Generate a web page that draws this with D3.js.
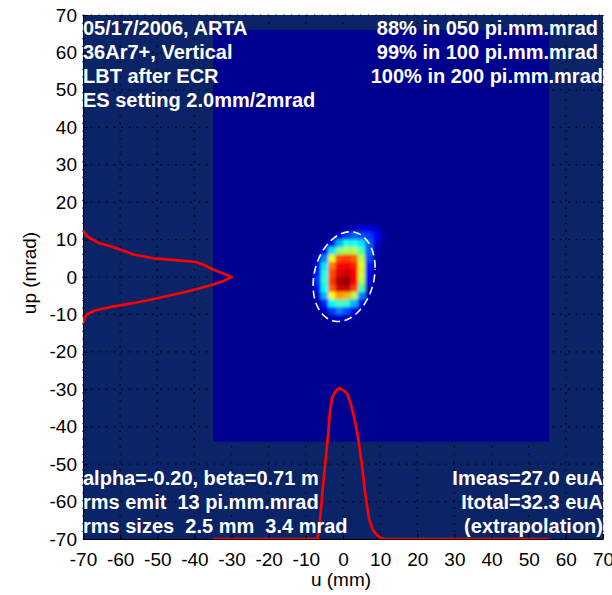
<!DOCTYPE html>
<html>
<head>
<meta charset="utf-8">
<script src="https://cdn.jsdelivr.net/npm/d3@7"></script>
<style>
  body { margin: 0; background: #fff; }
  text { font-family: "Liberation Sans", Arial, sans-serif; white-space: pre; }
  .info { fill: #fff; font-weight: bold; font-size: 20px; }
  .tick text { font-size: 19px; fill: #000; }
</style>
</head>
<body>
<div id="chart"></div>
<script>
// axis range + ticks
var ticks = [-70, -60, -50, -40, -30, -20, -10, 0, 10, 20, 30, 40, 50, 60, 70];

// measured image extent (u: mm, up: mrad)
var imageU = [-35, 55.5];
var imageUp = [-44, 66];

// beam density, 2x2 cells; columns = u centres, rows = up centres
var cellU = [-7, -5, -3, -1, 1, 3, 5, 7, 9, 11];
var cellUp = [13, 11, 9, 7, 5, 3, 1, -1, -3, -5, -7, -9, -11];
var density = [
    [0, 0, 0, 0, 0.02, 0.05, 0.08, 0.08, 0.05, 0],
    [0, 0, 0, 0.08, 0.18, 0.22, 0.2, 0.18, 0.12, 0.03],
    [0, 0, 0.1, 0.3, 0.4, 0.4, 0.35, 0.22, 0.08, 0],
    [0, 0.1, 0.35, 0.5, 0.55, 0.55, 0.45, 0.22, 0.04, 0],
    [0.05, 0.25, 0.6, 0.8, 0.82, 0.78, 0.55, 0.2, 0.02, 0],
    [0.1, 0.35, 0.75, 0.88, 0.88, 0.85, 0.6, 0.15, 0, 0],
    [0.15, 0.4, 0.8, 0.9, 0.93, 0.88, 0.58, 0.12, 0, 0],
    [0.18, 0.42, 0.82, 0.96, 0.98, 0.88, 0.55, 0.1, 0, 0],
    [0.12, 0.38, 0.78, 0.92, 0.93, 0.82, 0.45, 0.06, 0, 0],
    [0.06, 0.3, 0.62, 0.72, 0.7, 0.55, 0.25, 0.03, 0, 0],
    [0.02, 0.15, 0.38, 0.45, 0.42, 0.3, 0.1, 0, 0, 0],
    [0, 0.05, 0.18, 0.25, 0.2, 0.1, 0.02, 0, 0, 0],
    [0, 0, 0.04, 0.08, 0.05, 0.02, 0, 0, 0, 0]
];

// u profile (drawn against the bottom axis)
var profU = [-35, -7, -6.5, -6, -5.5, -5, -4.5, -4, -3.5, -3, -2, -1, 0, 1, 2, 3, 4, 5, 6, 7, 8, 9, 10, 11, 55.5];
var profUval = [-70, -70, -68, -63, -57, -52, -47, -42, -36, -32.5, -30.5, -29.7, -30.2, -31, -33.5, -37.5, -42.5, -49.5, -58, -64.5, -67.5, -68.8, -69.6, -70, -70];

// up profile (drawn against the left axis)
var profUp = [12.5, 11, 10, 9, 8, 7, 6, 5, 4.5, 4, 3, 2, 1, 0, -1, -2, -3, -4, -5, -6, -7, -8, -9, -10, -11, -12.5];
var profUpval = [-70, -69, -67.5, -65.5, -62, -59, -56.5, -51, -45, -39.5, -37, -35, -32.5, -30, -32, -35, -38.5, -42.5, -47, -51.5, -56.5, -62.5, -67, -69, -69.6, -70];

// twiss ellipse
var twiss = { alpha: -0.20, beta: 0.71, eps: 98, u0: 0.3, up0: 0.1 };

var infoTopLeft = ["05/17/2006, ARTA", "36Ar7+, Vertical", "LBT after ECR", "ES setting 2.0mm/2mrad"];
var infoTopRight = ["88% in 050 pi.mm.mrad", "99% in 100 pi.mm.mrad", "100% in 200 pi.mm.mrad"];
var infoBotLeft = ["alpha=-0.20, beta=0.71 m", "rms emit  13 pi.mm.mrad", "rms sizes  2.5 mm  3.4 mrad"];
var infoBotRight = ["Imeas=27.0 euA", "Itotal=32.3 euA", "(extrapolation)"];

var margin = { top: 15, right: 9, bottom: 56, left: 83 },
    width = 612 - margin.left - margin.right,
    height = 595 - margin.top - margin.bottom;

var x = d3.scaleLinear().domain([-70, 70]).range([0, width]);
var y = d3.scaleLinear().domain([-70, 70]).range([height, 0]);

var jet = d3.scaleLinear()
    .domain([0, 0.125, 0.375, 0.625, 0.875, 1])
    .range(["#00008f", "#0000ff", "#00ffff", "#ffff00", "#ff0000", "#800000"]);

var svg = d3.select("#chart")
    .append("svg")
    .attr("width", 612)
    .attr("height", 595);

var defs = svg.append("defs");
defs.append("clipPath").attr("id", "plotclip")
    .append("rect").attr("width", width).attr("height", height);
defs.append("filter").attr("id", "soft")
    .attr("x", "-30%").attr("y", "-30%").attr("width", "160%").attr("height", "160%")
    .append("feGaussianBlur").attr("stdDeviation", 1.8);

var g = svg.append("g")
    .attr("transform", "translate(" + margin.left + "," + margin.top + ")");

// background
g.append("rect")
    .attr("width", width)
    .attr("height", height)
    .style("fill", "#0b2367");

// dotted grid
var grid = g.append("g").attr("class", "grid")
    .style("stroke", "#000")
    .style("stroke-width", 1.2)
    .style("stroke-dasharray", "1.2,6.5");
grid.selectAll(".gx").data(ticks).enter().append("line")
    .attr("x1", d => x(d)).attr("x2", d => x(d))
    .attr("y1", 0).attr("y2", height);
grid.selectAll(".gy").data(ticks).enter().append("line")
    .attr("x1", 0).attr("x2", width)
    .attr("y1", d => y(d)).attr("y2", d => y(d));

var plot = g.append("g").attr("clip-path", "url(#plotclip)");

// measured image area
plot.append("rect")
    .attr("x", x(imageU[0]))
    .attr("y", y(imageUp[1]))
    .attr("width", x(imageU[1]) - x(imageU[0]))
    .attr("height", y(imageUp[0]) - y(imageUp[1]))
    .style("fill", jet(0));

// density cells
var cells = [];
density.forEach((row, i) => {
    row.forEach((v, j) => {
        cells.push({ u: cellU[j], up: cellUp[i], v: v });
    });
});
plot.append("g")
    .attr("filter", "url(#soft)")
    .selectAll("rect")
    .data(cells)
    .enter().append("rect")
    .attr("x", d => x(d.u - 1))
    .attr("y", d => y(d.up + 1))
    .attr("width", x(1) - x(-1) + 0.3)
    .attr("height", y(-1) - y(1) + 0.3)
    .style("fill", d => jet(d.v));

// emittance ellipse
var ts = d3.range(0, 2 * Math.PI + 0.01, 0.05);
var ell = ts.map(t => [
    twiss.u0 + Math.sqrt(twiss.eps * twiss.beta) * Math.cos(t),
    twiss.up0 + Math.sqrt(twiss.eps / twiss.beta) * (Math.sin(t) - twiss.alpha * Math.cos(t))
]);
plot.append("path")
    .datum(ell)
    .attr("d", d3.line().x(d => x(d[0])).y(d => y(d[1])))
    .style("fill", "none")
    .style("stroke", "#fff")
    .style("stroke-width", 1.6)
    .style("stroke-dasharray", "8,4.5");

// profiles
plot.append("path")
    .datum(profU.map((u, i) => [u, profUval[i]]))
    .attr("d", d3.line().x(d => x(d[0])).y(d => y(d[1])))
    .style("fill", "none")
    .style("stroke", "#ff0000")
    .style("stroke-width", 2.7)
    .style("stroke-linejoin", "round");

plot.append("path")
    .datum(profUp.map((u, i) => [profUpval[i], u]))
    .attr("d", d3.line().x(d => x(d[0])).y(d => y(d[1])))
    .style("fill", "none")
    .style("stroke", "#ff0000")
    .style("stroke-width", 2.7)
    .style("stroke-linejoin", "round");

// axes (plain hyphen minus like the original)
var fmt = d => String(d);
var xAxis = g.append("g")
    .attr("class", "x axis")
    .attr("transform", "translate(0," + height + ")")
    .call(d3.axisBottom(x).tickValues(ticks).tickFormat(fmt).tickSizeInner(-5).tickSizeOuter(0).tickPadding(10));
var yAxis = g.append("g")
    .attr("class", "y axis")
    .call(d3.axisLeft(y).tickValues(ticks).tickFormat(fmt).tickSizeInner(-5).tickSizeOuter(0).tickPadding(6));
svg.selectAll(".axis .domain").style("stroke", "#000");
svg.selectAll(".axis .tick line").style("stroke", "#000");
xAxis.selectAll("text").attr("dy", "0.9em");
// bottom profile baseline sits on the axis
xAxis.raise();
plot.raise();

// axis labels
svg.append("text")
    .attr("x", margin.left + x(0) - 2)
    .attr("y", 586)
    .attr("text-anchor", "middle")
    .style("font-size", "19px")
    .text("u (mm)");
svg.append("text")
    .attr("transform", "translate(36," + (margin.top + y(0) - 4) + ") rotate(-90)")
    .attr("text-anchor", "middle")
    .style("font-size", "19px")
    .text("up (mrad)");

// info text
var topY = [35, 59, 83, 107];
var botY = [485, 509, 533];
g.selectAll(".tl").data(infoTopLeft).enter().append("text")
    .attr("class", "info")
    .attr("x", 0)
    .attr("y", (d, i) => topY[i] - margin.top)
    .text(d => d);
var trX = [598, 598, 603];
g.selectAll(".tr").data(infoTopRight).enter().append("text")
    .attr("class", "info")
    .attr("text-anchor", "end")
    .attr("x", (d, i) => trX[i] - margin.left)
    .attr("y", (d, i) => topY[i] - margin.top)
    .text(d => d);
g.selectAll(".bl").data(infoBotLeft).enter().append("text")
    .attr("class", "info")
    .attr("x", 0)
    .attr("y", (d, i) => botY[i] - margin.top)
    .text(d => d);
g.selectAll(".br").data(infoBotRight).enter().append("text")
    .attr("class", "info")
    .attr("text-anchor", "end")
    .attr("x", 603 - margin.left)
    .attr("y", (d, i) => botY[i] - margin.top)
    .text(d => d);
</script>
</body>
</html>
